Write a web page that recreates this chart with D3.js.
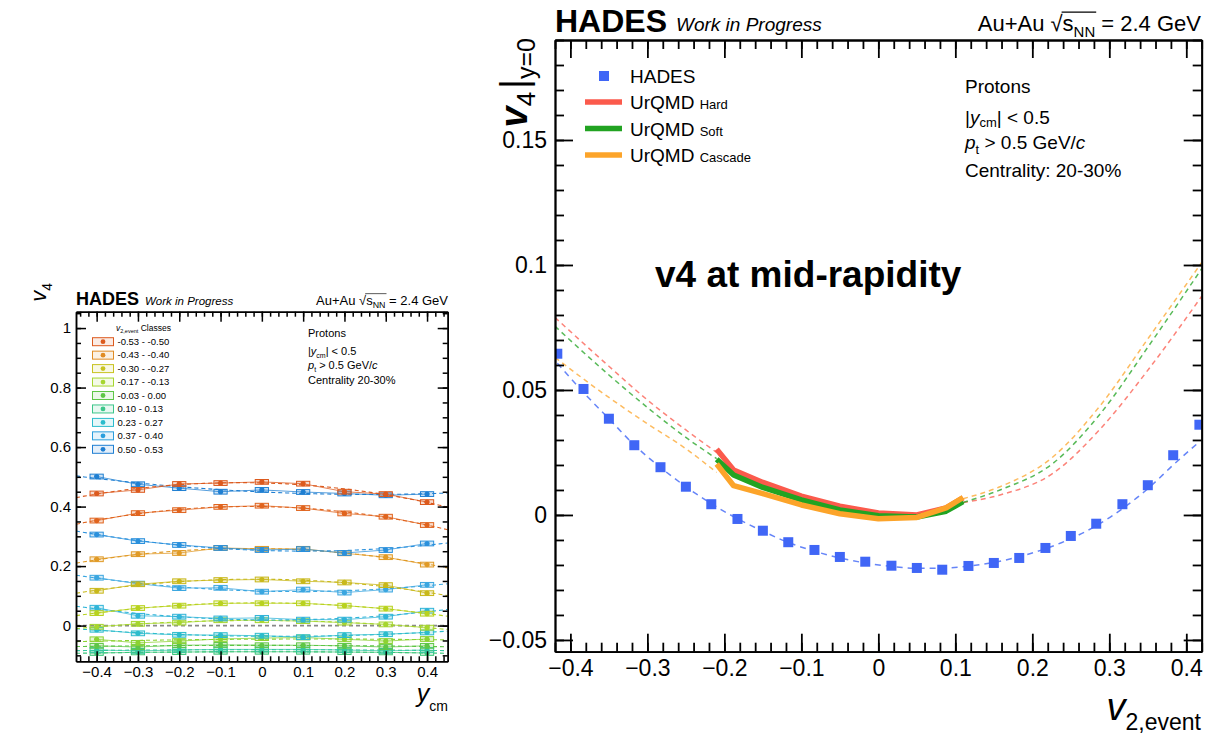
<!DOCTYPE html>
<html>
<head>
<meta charset="utf-8">
<script src="https://cdn.jsdelivr.net/npm/d3@7/dist/d3.min.js"></script>
<style>
  body { margin: 0; padding: 0; overflow: hidden; background: #fff; }
  text { font-family: "Liberation Sans", Arial, Helvetica, sans-serif; fill: #000; }
</style>
</head>
<body>
<script>
// ---------------- left panel: v4 vs y_cm per v2,event class ----------------
const yCm = [-0.4, -0.3, -0.2, -0.1, 0, 0.1, 0.2, 0.3, 0.4];

const legendClasses = ["-0.53 - -0.50", "-0.43 - -0.40", "-0.30 - -0.27", "-0.17 - -0.13",
  "-0.03 - 0.00", "0.10 - 0.13", "0.23 - 0.27", "0.37 - 0.40", "0.50 - 0.53"];
const legendColors = ["#dc5a1e", "#e08c24", "#c8c320", "#a6d62e", "#5ec646",
  "#3cc68a", "#2cbccc", "#2a9edc", "#1f7fd2"];

// series (top to bottom roughly)
const v4RedA   = [0.444, 0.456, 0.476, 0.479, 0.483, 0.477, 0.450, 0.442, 0.415];
const v4RedB   = [0.353, 0.378, 0.388, 0.399, 0.403, 0.395, 0.377, 0.366, 0.338];
const v4Orange = [0.223, 0.240, 0.244, 0.261, 0.258, 0.258, 0.243, 0.230, 0.205];
const v4Olive  = [0.117, 0.139, 0.149, 0.153, 0.155, 0.149, 0.145, 0.136, 0.109];
const v4Lime   = [0.042, 0.059, 0.067, 0.075, 0.075, 0.075, 0.067, 0.057, 0.040];
const v4LimeB  = [-0.004, 0.006, 0.010, 0.018, 0.018, 0.015, 0.010, 0.004, -0.007];
const v4Green  = [-0.046, -0.058, -0.052, -0.045, -0.042, -0.040, -0.046, -0.052, -0.045];
const v4GreenB = [-0.068, -0.072, -0.066, -0.065, -0.066, -0.066, -0.068, -0.072, -0.068];
const v4Teal   = [-0.082, -0.085, -0.082, -0.080, -0.080, -0.080, -0.082, -0.085, -0.082];
const v4TealB  = [-0.092, -0.090, -0.089, -0.088, -0.088, -0.088, -0.089, -0.090, -0.092];
const v4Cyan   = [-0.014, -0.026, -0.031, -0.032, -0.034, -0.039, -0.032, -0.029, -0.023];
const v4CyanB  = [0.060, 0.033, 0.030, 0.024, 0.026, 0.020, 0.020, 0.030, 0.050];
const v4BlueC  = [0.161, 0.141, 0.126, 0.127, 0.114, 0.121, 0.111, 0.121, 0.137];
const v4BlueB  = [0.306, 0.284, 0.271, 0.261, 0.254, 0.257, 0.244, 0.254, 0.276];
const v4BlueA  = [0.501, 0.475, 0.462, 0.450, 0.456, 0.449, 0.444, 0.438, 0.442];

const leftSeries = [
  { v: v4TealB,  c: "#3cc678" }, { v: v4Teal,  c: "#34c6a0" }, { v: v4GreenB, c: "#5ec646" },
  { v: v4Green,  c: "#8cd232" }, { v: v4Cyan,  c: "#2cbccc" }, { v: v4LimeB,  c: "#a6d62e" },
  { v: v4CyanB,  c: "#30b4d8" }, { v: v4Lime,  c: "#b8d21e" }, { v: v4BlueC,  c: "#3aa6e0" },
  { v: v4Olive,  c: "#c8b81a" }, { v: v4Orange, c: "#e09a26" }, { v: v4BlueB,  c: "#2a90dc" },
  { v: v4RedB,   c: "#e0641e" }, { v: v4BlueA, c: "#1f7fd2" }, { v: v4RedA,   c: "#dc5a1e" }
];

// ---------------- right panel: v4 at y=0 vs v2,event ----------------
const v2Bins = [-0.417, -0.383, -0.35, -0.317, -0.283, -0.25, -0.217, -0.183, -0.15, -0.117, -0.083,
  -0.05, -0.017, 0.017, 0.05, 0.083, 0.117, 0.15, 0.183, 0.217, 0.25, 0.283, 0.317, 0.35, 0.383, 0.417];
const v4Hades = [0.0645, 0.0504, 0.0385, 0.0279, 0.0191, 0.0113, 0.0043, -0.0016, -0.0063, -0.0109, -0.014,
  -0.0168, -0.0187, -0.0203, -0.0212, -0.0219, -0.0204, -0.0192, -0.0172, -0.0132, -0.0084, -0.0035,
  0.0043, 0.0119, 0.0239, 0.0361];
const v4HadesFit = [0.0607, 0.049, 0.0385, 0.028, 0.019, 0.0113, 0.0045, -0.0015, -0.0065, -0.011, -0.0145,
  -0.0172, -0.0192, -0.0206, -0.0213, -0.0213, -0.0205, -0.019, -0.0167, -0.0135, -0.0095, -0.0043,
  0.0025, 0.0105, 0.02, 0.0293];

const v2Model = [-0.21, -0.188, -0.15, -0.1, -0.05, 0, 0.05, 0.088, 0.11];
const v4Hard    = [0.0263, 0.0180, 0.0130, 0.0075, 0.0035, 0.0008, 0.0000, 0.0028, 0.0068];
const v4Soft    = [0.0223, 0.0160, 0.0110, 0.0060, 0.0020, -0.0003, -0.0008, 0.0015, 0.0053];
const v4Cascade = [0.0204, 0.0117, 0.0085, 0.0040, 0.0005, -0.0015, -0.0010, 0.0028, 0.0070];

const v2FitLeft  = [-0.42, -0.35, -0.3, -0.25, -0.21];
const v2FitRight = [0.11, 0.158, 0.227, 0.287, 0.352, 0.42];
const fitHardL    = [0.079, 0.0595, 0.046, 0.034, 0.025];
const fitSoftL    = [0.0755, 0.056, 0.043, 0.031, 0.0225];
const fitCascadeL = [0.063, 0.047, 0.0365, 0.0265, 0.017];
const fitHardR    = [0.005, 0.008, 0.0167, 0.034, 0.0587, 0.0875];
const fitSoftR    = [0.005, 0.010, 0.0207, 0.040, 0.068, 0.0985];
const fitCascadeR = [0.0065, 0.0113, 0.0233, 0.0433, 0.0713, 0.101];

const modelNames  = ["Hard", "Soft", "Cascade"];
const modelColors = ["#fb5a4c", "#22a322", "#fca42a"];
const hadesColor = "#4066f6";

// ---------------------------------------------------------------------------
const svg = d3.select("body").append("svg").attr("width", 1209).attr("height", 741);
svg.append("rect").attr("width", 1209).attr("height", 741).attr("fill", "#fff");

function tickVals(domain, step) {
  const lo = Math.ceil(domain[0] / step - 1e-6), hi = Math.floor(domain[1] / step + 1e-6);
  return d3.range(lo, hi + 1).map(i => +(i * step).toFixed(4));
}
const fmt = d => Math.abs(d) < 1e-9 ? "0" : String(+d.toFixed(3)).replace("-", "\u2212");

function drawFrame(g, x, y, o) {
  const [x0, x1] = x.range(), [y0, y1] = y.range();
  const xMinor = tickVals(x.domain(), o.xMinor), xMajor = tickVals(x.domain(), o.xMajor);
  const yMinor = tickVals(y.domain(), o.yMinor), yMajor = tickVals(y.domain(), o.yMajor);
  const sets = [
    [d3.axisBottom(x), `translate(0,${y0})`, xMinor, xMajor, true],
    [d3.axisTop(x), `translate(0,${y1})`, xMinor, xMajor, false],
    [d3.axisLeft(y), `translate(${x0},0)`, yMinor, yMajor, true],
    [d3.axisRight(y), `translate(${x1},0)`, yMinor, yMajor, false]
  ];
  sets.forEach(([ax, tr, mn, mj, lab]) => {
    g.append("g").attr("transform", tr)
      .call(ax.tickValues(mn).tickSize(-o.minor).tickSizeOuter(0).tickFormat(""))
      .call(s => s.selectAll("line,path").attr("stroke", "#000").attr("stroke-width", o.sw));
  });
  sets.forEach(([ax, tr, mn, mj, lab]) => {
    const a = g.append("g").attr("transform", tr)
      .call(ax.tickValues(mj).tickSize(-o.major).tickSizeOuter(0).tickPadding(o.pad)
        .tickFormat(lab ? fmt : ""));
    a.selectAll("line,path").attr("stroke", "#000").attr("stroke-width", o.sw);
    a.selectAll("text").attr("font-size", o.fs).attr("font-family", "Liberation Sans, Arial, sans-serif");
  });
}

function addSqrtS(g, xEnd, yBase, fs) {
  const t = g.append("text").attr("x", xEnd).attr("y", yBase).attr("text-anchor", "end").attr("font-size", fs);
  t.append("tspan").text("Au+Au \u221A");
  const s = t.append("tspan").text("s");
  const nn = t.append("tspan").attr("font-size", fs * 0.68).attr("dy", fs * 0.25).text("NN");
  t.append("tspan").attr("dy", -fs * 0.25).text(" = 2.4 GeV");
  const b1 = s.node().getBBox(), b2 = nn.node().getBBox();
  g.append("line").attr("x1", b1.x - 1).attr("x2", b2.x + b2.width + 1)
    .attr("y1", b1.y + fs * 0.05).attr("y2", b1.y + fs * 0.05).attr("stroke", "#000").attr("stroke-width", fs * 0.05);
}

function quadFit(xs, ys) {
  // least squares a + b x + c x^2
  let S = [[0, 0, 0], [0, 0, 0], [0, 0, 0]], R = [0, 0, 0];
  xs.forEach((x, i) => {
    const p = [1, x, x * x];
    for (let r = 0; r < 3; r++) { R[r] += p[r] * ys[i]; for (let c = 0; c < 3; c++) S[r][c] += p[r] * p[c]; }
  });
  const det = m => m[0][0] * (m[1][1] * m[2][2] - m[1][2] * m[2][1]) - m[0][1] * (m[1][0] * m[2][2] - m[1][2] * m[2][0]) + m[0][2] * (m[1][0] * m[2][1] - m[1][1] * m[2][0]);
  const D = det(S);
  return [0, 1, 2].map(k => det(S.map((row, r) => row.map((v, c) => c === k ? R[r] : v))) / D);
}

// ================= LEFT PANEL =================
const xL = d3.scaleLinear().domain([-0.45, 0.45]).range([76, 447.7]);
const yL = d3.scaleLinear().domain([-0.12, 1.055]).range([661.3, 311.7]);
const gL = svg.append("g");
gL.append("clipPath").attr("id", "clipL").append("rect")
  .attr("x", 76).attr("y", 311.7).attr("width", 371.7).attr("height", 349.6);
const plotL = gL.append("g").attr("clip-path", "url(#clipL)");

plotL.append("line").attr("x1", 76).attr("x2", 447.7).attr("y1", yL(0)).attr("y2", yL(0))
  .attr("stroke", "#888").attr("stroke-width", 1.6).attr("stroke-dasharray", "4,3");

leftSeries.forEach(s => {
  const [a, b, c] = quadFit(yCm, s.v);
  const xs = d3.range(-0.45, 0.4501, 0.01);
  plotL.append("path").datum(xs)
    .attr("d", d3.line().x(d => xL(d)).y(d => yL(a + b * d + c * d * d)))
    .attr("fill", "none").attr("stroke", s.c).attr("stroke-width", 1.1).attr("stroke-dasharray", "4,3");
  plotL.append("path").datum(yCm)
    .attr("d", d3.line().x(d => xL(d)).y((d, i) => yL(s.v[i])))
    .attr("fill", "none").attr("stroke", s.c).attr("stroke-width", 1).attr("opacity", 0.75);
  plotL.selectAll(null).data(yCm).join("rect")
    .attr("x", d => xL(d - 0.016)).attr("width", xL(0.016) - xL(-0.016))
    .attr("y", (d, i) => yL(s.v[i] + 0.008)).attr("height", yL(0) - yL(0.016))
    .attr("fill", s.c).attr("fill-opacity", 0.22).attr("stroke", s.c).attr("stroke-width", 1);
  plotL.selectAll(null).data(yCm).join("circle")
    .attr("cx", d => xL(d)).attr("cy", (d, i) => yL(s.v[i])).attr("r", 2.6).attr("fill", s.c);
});

drawFrame(gL, xL, yL, { xMinor: 0.02, xMajor: 0.1, yMinor: 0.05, yMajor: 0.2, minor: 5, major: 10, sw: 1.5, pad: 5, fs: 15 });

// left header
gL.append("text").attr("x", 76).attr("y", 305).attr("font-size", 18).attr("font-weight", "bold").text("HADES");
gL.append("text").attr("x", 145).attr("y", 305).attr("font-size", 11.5).attr("font-style", "italic").text("Work in Progress");
addSqrtS(gL, 448, 305, 13);

// left y title
const tyL = gL.append("text").attr("transform", "translate(46,283) rotate(-90)").attr("text-anchor", "end");
tyL.append("tspan").attr("font-size", 22).attr("font-style", "italic").text("v");
tyL.append("tspan").attr("font-size", 14).attr("dy", 6).text("4");
// left x title
const txL = gL.append("text").attr("x", 448).attr("y", 702).attr("text-anchor", "end");
txL.append("tspan").attr("font-size", 25).attr("font-style", "italic").text("y");
txL.append("tspan").attr("font-size", 14).attr("dy", 9).text("cm");

// left legend
const lgL = gL.append("g");
const lgT = lgL.append("text").attr("x", 116).attr("y", 331).attr("font-size", 8.5);
lgT.append("tspan").attr("font-style", "italic").text("v");
lgT.append("tspan").attr("font-size", 5.5).attr("dy", 2).text("2,event");
lgT.append("tspan").attr("dy", -2).text(" Classes");
legendClasses.forEach((lab, i) => {
  const cy = 341.7 + i * 13.45;
  lgL.append("rect").attr("x", 92.5).attr("y", cy - 4).attr("width", 21).attr("height", 8)
    .attr("fill", legendColors[i]).attr("fill-opacity", 0.12).attr("stroke", legendColors[i]).attr("stroke-width", 1);
  lgL.append("circle").attr("cx", 103).attr("cy", cy).attr("r", 2.4).attr("fill", legendColors[i]);
  lgL.append("text").attr("x", 117.5).attr("y", cy + 3.3).attr("font-size", 9.5).text(lab);
});

// left info text
gL.append("text").attr("x", 308).attr("y", 337).attr("font-size", 11).text("Protons");
const tl1 = gL.append("text").attr("x", 308).attr("y", 355).attr("font-size", 11);
tl1.append("tspan").text("|");
tl1.append("tspan").attr("font-style", "italic").text("y");
tl1.append("tspan").attr("font-size", 7).attr("dy", 2.5).text("cm");
tl1.append("tspan").attr("dy", -2.5).text("| < 0.5");
const tl2 = gL.append("text").attr("x", 308).attr("y", 369).attr("font-size", 11);
tl2.append("tspan").attr("font-style", "italic").text("p");
tl2.append("tspan").attr("font-size", 7).attr("dy", 3).text("t");
tl2.append("tspan").attr("dy", -3).text(" > 0.5 GeV/");
tl2.append("tspan").attr("font-style", "italic").text("c");
gL.append("text").attr("x", 308).attr("y", 384).attr("font-size", 11).text("Centrality 20-30%");

// ================= RIGHT PANEL =================
const xR = d3.scaleLinear().domain([-0.42, 0.42]).range([555, 1201.7]);
const yR = d3.scaleLinear().domain([-0.0547, 0.19]).range([651.7, 40]);
const gR = svg.append("g");
gR.append("clipPath").attr("id", "clipR").append("rect")
  .attr("x", 555).attr("y", 40).attr("width", 646.7).attr("height", 611.7);
const plotR = gR.append("g").attr("clip-path", "url(#clipR)");

const lineR = (xs, ys) => d3.line().curve(d3.curveMonotoneX).x((d, i) => xR(xs[i])).y(d => yR(d))(ys);

// dashed fits
[[fitHardL, fitHardR], [fitSoftL, fitSoftR], [fitCascadeL, fitCascadeR]].forEach(([l, r], k) => {
  [[v2FitLeft, l], [v2FitRight, r]].forEach(([xs, ys]) => {
    plotR.append("path").attr("d", lineR(xs, ys)).attr("fill", "none")
      .attr("stroke", modelColors[k]).attr("stroke-opacity", 0.75).attr("stroke-width", 1.5)
      .attr("stroke-dasharray", "5,4");
  });
});
plotR.append("path").attr("d", lineR(v2Bins, v4HadesFit)).attr("fill", "none")
  .attr("stroke", hadesColor).attr("stroke-opacity", 0.8).attr("stroke-width", 1.5)
  .attr("stroke-dasharray", "6,5");

// model solid lines
[v4Hard, v4Soft, v4Cascade].forEach((ys, k) => {
  plotR.append("path").attr("d", d3.line().x((d, i) => xR(v2Model[i])).y(d => yR(d))(ys))
    .attr("fill", "none").attr("stroke", modelColors[k]).attr("stroke-width", 5.5)
    .attr("stroke-linejoin", "round");
});

// HADES points
plotR.selectAll(null).data(v4Hades).join("rect")
  .attr("x", (d, i) => xR(v2Bins[i]) - 5).attr("y", d => yR(d) - 5)
  .attr("width", 10).attr("height", 10).attr("fill", hadesColor);

drawFrame(gR, xR, yR, { xMinor: 0.02, xMajor: 0.1, yMinor: 0.01, yMajor: 0.05, minor: 9, major: 18, sw: 1.8, pad: 8, fs: 23 });

// header
gR.append("text").attr("x", 555).attr("y", 32).attr("font-size", 32).attr("font-weight", "bold").text("HADES");
gR.append("text").attr("x", 676).attr("y", 31).attr("font-size", 19).attr("font-style", "italic").text("Work in Progress");
addSqrtS(gR, 1201, 31, 22);

// big label
gR.append("text").attr("x", 655).attr("y", 287).attr("font-size", 37).attr("font-weight", "bold").text("v4 at mid-rapidity");

// legend
gR.append("rect").attr("x", 599).attr("y", 71).attr("width", 10).attr("height", 10).attr("fill", hadesColor);
gR.append("text").attr("x", 630).attr("y", 83).attr("font-size", 19).text("HADES");
modelNames.forEach((nm, k) => {
  const cy = 102 + k * 26.5;
  gR.append("line").attr("x1", 585).attr("x2", 622).attr("y1", cy).attr("y2", cy)
    .attr("stroke", modelColors[k]).attr("stroke-width", 5.5);
  const t = gR.append("text").attr("x", 630).attr("y", cy + 7).attr("font-size", 19);
  t.append("tspan").text("UrQMD ");
  t.append("tspan").attr("font-size", 13).text(nm);
});

// info text
gR.append("text").attr("x", 965).attr("y", 93).attr("font-size", 19).text("Protons");
const tr1 = gR.append("text").attr("x", 965).attr("y", 124).attr("font-size", 19);
tr1.append("tspan").text("|");
tr1.append("tspan").attr("font-style", "italic").text("y");
tr1.append("tspan").attr("font-size", 13).attr("dy", 3).text("cm");
tr1.append("tspan").attr("dy", -3).text("| < 0.5");
const tr2 = gR.append("text").attr("x", 965).attr("y", 149).attr("font-size", 19);
tr2.append("tspan").attr("font-style", "italic").text("p");
tr2.append("tspan").attr("font-size", 13).attr("dy", 5).text("t");
tr2.append("tspan").attr("dy", -5).text(" > 0.5 GeV/");
tr2.append("tspan").attr("font-style", "italic").text("c");
gR.append("text").attr("x", 965).attr("y", 177).attr("font-size", 19).text("Centrality: 20-30%");

// right y title
const tyR = gR.append("text").attr("transform", "translate(527,38) rotate(-90)").attr("text-anchor", "end");
tyR.append("tspan").attr("font-size", 38).attr("font-weight", "bold").attr("font-style", "italic").text("v");
tyR.append("tspan").attr("font-size", 26).attr("dy", 8).text("4");
tyR.append("tspan").attr("font-size", 38).attr("dy", -8).attr("dx", 3).text("|");
tyR.append("tspan").attr("font-size", 25).attr("dy", 8).text("y=0");

// right x title
const txR = gR.append("text").attr("x", 1201).attr("y", 720).attr("text-anchor", "end");
txR.append("tspan").attr("font-size", 38).attr("font-style", "italic").text("v");
txR.append("tspan").attr("font-size", 23).attr("dy", 10).text("2,event");
</script>
</body>
</html>
